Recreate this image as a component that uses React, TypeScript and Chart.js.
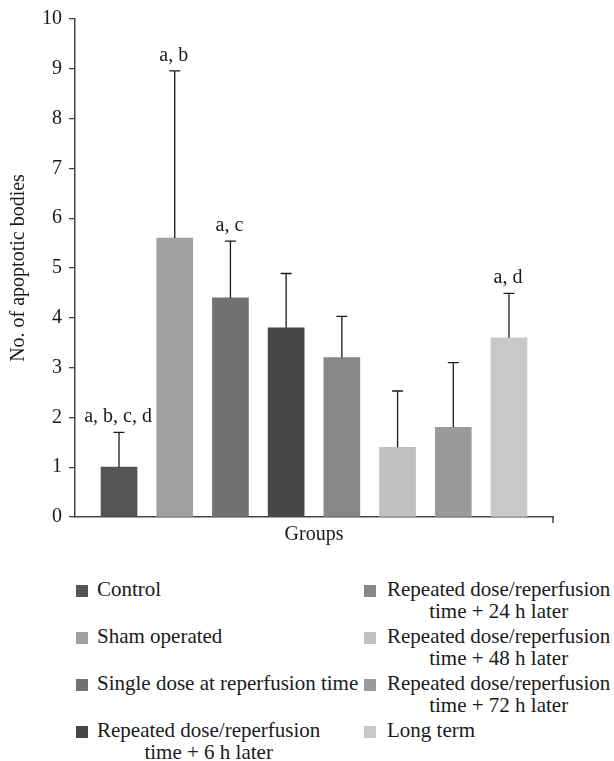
import React, { useEffect, useRef } from "react";
import { Chart, registerables } from "chart.js";

Chart.register(...registerables);

const groups = [
  "Control",
  "Sham operated",
  "Single dose at reperfusion time",
  "Repeated dose/reperfusion\ntime + 6 h later",
  "Repeated dose/reperfusion\ntime + 24 h later",
  "Repeated dose/reperfusion\ntime + 48 h later",
  "Repeated dose/reperfusion\ntime + 72 h later",
  "Long term",
];
const means = [1.0, 5.6, 4.4, 3.8, 3.2, 1.4, 1.8, 3.6];
const sds = [0.7, 3.36, 1.14, 1.09, 0.83, 1.13, 1.3, 0.89];
const sigLabels = ["a, b, c, d", "a, b", "a, c", "", "", "", "", "a, d"];
const colors = ["#555555", "#a0a0a0", "#727272", "#474747", "#878787", "#c1c1c1", "#9a9a9a", "#c8c8c8"];
const yTicks = [0, 1, 2, 3, 4, 5, 6, 7, 8, 9, 10];
const yTitle = "No. of apoptotic bodies";
const xTitle = "Groups";

const FONT = "'Liberation Serif', 'Times New Roman', serif";
const INK = "#1a1a1a";

const errorBarPlugin = {
  id: "errorBars",
  afterDatasetsDraw(chart: any) {
    const xs = chart.scales.x;
    const ys = chart.scales.y;
    const ctx = chart.ctx;
    ctx.save();
    ctx.strokeStyle = INK;
    ctx.lineWidth = 1.3;
    ctx.fillStyle = INK;
    ctx.font = `20px ${FONT}`;
    ctx.textAlign = "center";
    ctx.textBaseline = "alphabetic";
    means.forEach((m, i) => {
      const x = xs.getPixelForValue(i + 1);
      const yb = ys.getPixelForValue(m);
      const yt = ys.getPixelForValue(m + sds[i]);
      ctx.beginPath();
      ctx.moveTo(x, yb);
      ctx.lineTo(x, yt);
      ctx.moveTo(x - 5.5, yt);
      ctx.lineTo(x + 5.5, yt);
      ctx.stroke();
      if (sigLabels[i]) ctx.fillText(sigLabels[i], x - 1, yt - 10);
    });
    // end tick of x axis
    ctx.strokeStyle = "#444";
    ctx.lineWidth = 1.5;
    ctx.beginPath();
    ctx.moveTo(xs.right, xs.top);
    ctx.lineTo(xs.right, xs.top + 6);
    ctx.stroke();
    ctx.restore();
  },
};

function Legend() {
  const rowTops = [578, 625, 672, 719];
  return (
    <>
      {groups.map((g, i) => {
        const col = i < 4 ? 0 : 1;
        const row = i % 4;
        const sqLeft = col === 0 ? 76 : 364;
        const txtLeft = col === 0 ? 97 : 387;
        const top = rowTops[row];
        const lines = g.split("\n");
        return (
          <React.Fragment key={i}>
            <div
              style={{
                position: "absolute",
                left: sqLeft,
                top: top + 7,
                width: 12,
                height: 12,
                background: colors[i],
              }}
            />
            <div
              style={{
                position: "absolute",
                left: txtLeft,
                top,
                fontFamily: FONT,
                fontSize: 21,
                lineHeight: "22px",
                color: INK,
                textAlign: "center",
                whiteSpace: "nowrap",
              }}
            >
              {lines.map((l, k) => (
                <div key={k}>{l}</div>
              ))}
            </div>
          </React.Fragment>
        );
      })}
    </>
  );
}

export default function App() {
  const ref = useRef<HTMLCanvasElement | null>(null);
  useEffect(() => {
    if (!ref.current) return;
    const chart = new Chart(ref.current, {
      type: "bar",
      data: {
        datasets: [
          {
            data: means.map((m, i) => ({ x: i + 1, y: m })),
            backgroundColor: colors,
            borderWidth: 0,
            barThickness: 36,
          },
        ],
      },
      options: {
        animation: false,
        responsive: false,
        layout: { padding: { left: 0, right: 61, top: 16, bottom: 0 } },
        plugins: { legend: { display: false }, tooltip: { enabled: false } },
        scales: {
          x: {
            type: "linear",
            offset: false,
            min: 0.21,
            max: 8.79,
            ticks: { display: false },
            grid: { display: false },
            border: { display: true, color: "#444", width: 1.5 },
            title: {
              display: true,
              text: xTitle,
              color: INK,
              font: { family: FONT, size: 20 },
              padding: { top: 0, bottom: 13 },
            },
            afterFit(scale: any) {
              scale.height = 43;
            },
          },
          y: {
            min: 0,
            max: 10,
            afterBuildTicks(scale: any) {
              scale.ticks = yTicks.map((v) => ({ value: v }));
            },
            ticks: {
              color: INK,
              font: { family: FONT, size: 20 },
              padding: 7,
            },
            grid: {
              display: true,
              drawOnChartArea: false,
              drawTicks: true,
              tickLength: 6,
              color: "#444",
              lineWidth: 1.3,
            },
            border: { display: true, color: "#444", width: 1.5 },
            title: {
              display: true,
              text: yTitle,
              color: INK,
              font: { family: FONT, size: 20 },
              padding: { top: 7, bottom: 0 },
            },
            afterFit(scale: any) {
              scale.width = 75;
            },
          },
        },
      },
      plugins: [errorBarPlugin],
    } as any);
    return () => chart.destroy();
  }, []);
  return (
    <div style={{ position: "absolute", left: 0, top: 0, width: 614, height: 761, background: "#fff" }}>
      <canvas ref={ref} width={614} height={560} style={{ display: "block" }} />
      <Legend />
    </div>
  );
}
